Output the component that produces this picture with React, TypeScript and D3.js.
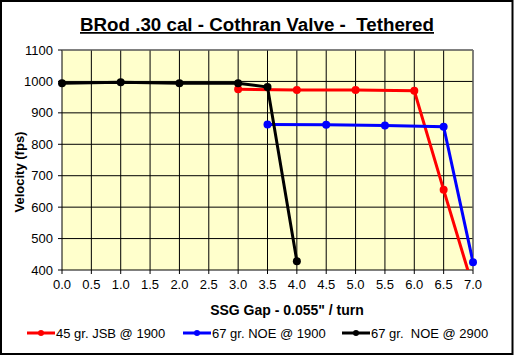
import React from "react";
import * as d3 from "d3";

const xTicks = [0, 0.5, 1, 1.5, 2, 2.5, 3, 3.5, 4, 4.5, 5, 5.5, 6, 6.5, 7];
const yTicks = [400, 500, 600, 700, 800, 900, 1000, 1100];

const jsbX = [3, 4, 5, 6, 6.5, 7];
const jsbY = [975, 973, 973, 970, 655, 345];
const noe1900X = [3.5, 4.5, 5.5, 6.5, 7];
const noe1900Y = [863, 862, 860, 856, 425];
const noe2900X = [0, 1, 2, 3, 3.5, 4];
const noe2900Y = [994, 997, 994, 994, 982, 428];

const seriesNames = ["45 gr. JSB @ 1900", "67 gr. NOE @ 1900", "67 gr.  NOE @ 2900"];
const seriesColors = ["#ff0000", "#0000ff", "#000000"];

const W = 514, H = 356;
const L = 62, R = 473, T = 50, B = 270;

export default function App() {
  const x = d3.scaleLinear().domain([0, 7]).range([L, R]);
  const y = d3.scaleLinear().domain([400, 1100]).range([B, T]);
  const series = [
    { xs: jsbX, ys: jsbY },
    { xs: noe1900X, ys: noe1900Y },
    { xs: noe2900X, ys: noe2900Y },
  ];
  const line = d3.line<[number, number]>().x(d => x(d[0])).y(d => y(d[1]));
  const font = "'Liberation Sans', Arial, sans-serif";
  const legendX = [27, 183, 342];
  const pre = { whiteSpace: "pre" as const };
  return (
    <svg width={W} height={H} style={{ position: "absolute", left: 0, top: 0, background: "#fff" }} fontFamily={font}>
      <defs>
        <clipPath id="plot"><rect x={L} y={T} width={R - L} height={B - T} /></clipPath>
      </defs>
      <rect x={1} y={1} width={W - 2.5} height={H - 3} fill="#fff" stroke="#000" strokeWidth={2} />
      <text x={257} y={31} textAnchor="middle" fontSize={17.5} fontWeight="bold" textDecoration="underline" textLength={354} lengthAdjust="spacingAndGlyphs" style={pre}>BRod .30 cal - Cothran Valve -  Tethered</text>
      <rect x={L} y={T} width={R - L} height={B - T} fill="#ffffcc" />
      {xTicks.map(t => (
        <line key={"gx" + t} x1={x(t)} x2={x(t)} y1={T} y2={B + 4} stroke="#000" strokeWidth={1} />
      ))}
      {yTicks.map(t => (
        <line key={"gy" + t} x1={L - 4} x2={R} y1={y(t)} y2={y(t)} stroke="#000" strokeWidth={1} />
      ))}
      <line x1={R} x2={R} y1={T} y2={B} stroke="#808080" strokeWidth={1} />
      <line x1={L} x2={R} y1={T} y2={T} stroke="#808080" strokeWidth={1} />
      {yTicks.map(t => (
        <text key={"ty" + t} x={53} y={y(t)} dy="0.35em" textAnchor="end" fontSize={13}>{t}</text>
      ))}
      {xTicks.map(t => (
        <text key={"tx" + t} x={x(t)} y={284} dy="0.35em" textAnchor="middle" fontSize={13}>{t.toFixed(1)}</text>
      ))}
      <text x={287} y={310} dy="0.35em" textAnchor="middle" fontSize={14} fontWeight="bold">SSG Gap - 0.055" / turn</text>
      <text transform="translate(19,172) rotate(-90)" textAnchor="middle" dy="0.35em" fontSize={13} fontWeight="bold">Velocity (fps)</text>
      {series.map((s, i) => {
        const pts = s.xs.map((v, j) => [v, s.ys[j]] as [number, number]);
        return (
          <g key={"s" + i}>
            <path d={line(pts) || ""} fill="none" stroke={seriesColors[i]} strokeWidth={3} clipPath="url(#plot)" />
            {pts.filter(p => p[1] >= 400 && p[1] <= 1100).map((p, j) => (
              <circle key={j} cx={x(p[0])} cy={y(p[1])} r={4} fill={seriesColors[i]} />
            ))}
          </g>
        );
      })}
      {seriesNames.map((n, i) => (
        <g key={"lg" + i}>
          <line x1={legendX[i]} x2={legendX[i] + 28} y1={333} y2={333} stroke={seriesColors[i]} strokeWidth={3} />
          <circle cx={legendX[i] + 14} cy={333} r={3} fill={seriesColors[i]} />
          <text x={legendX[i] + 29} y={333} dy="0.35em" fontSize={13} style={pre}>{n}</text>
        </g>
      ))}
    </svg>
  );
}
